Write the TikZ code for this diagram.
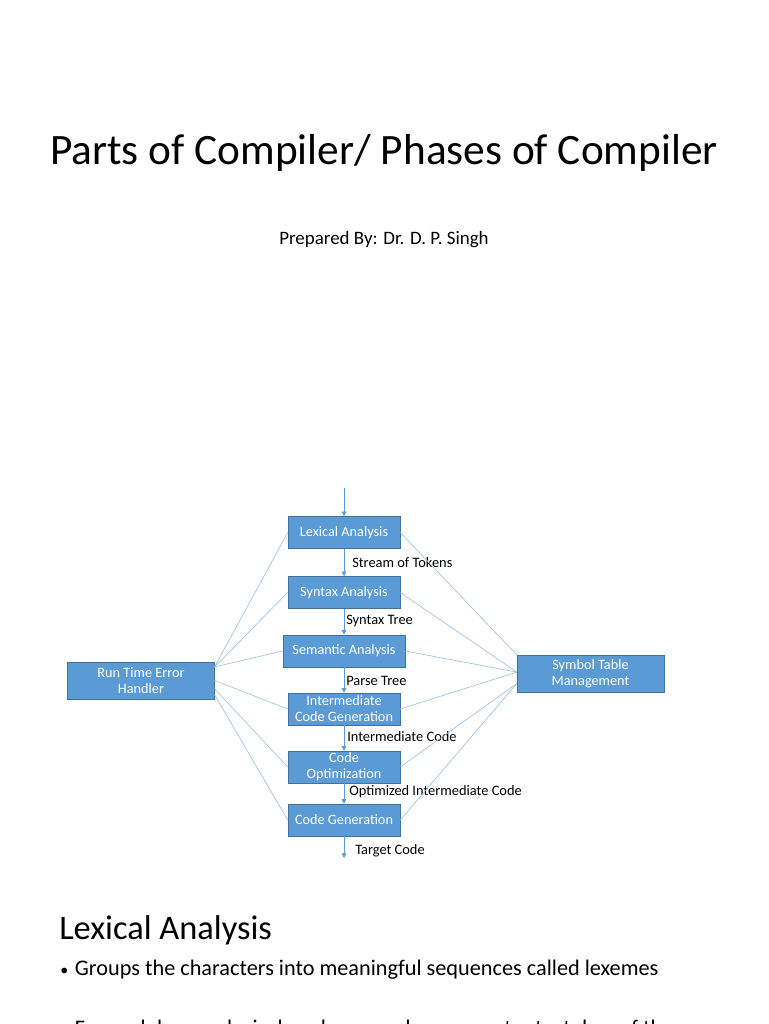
\documentclass[tikz,border=0pt]{standalone}
\usepackage{fontspec}
\setmainfont{Carlito}
\usetikzlibrary{calc,positioning,arrows.meta}
\definecolor{phasefill}{HTML}{5B9BD5}
\definecolor{phaseline}{HTML}{41719C}
\definecolor{linkblue}{HTML}{9DC3E6}

\begin{document}
\begin{tikzpicture}[x=0.75pt,y=-0.75pt,
    phase/.style={rectangle,draw=phaseline,fill=phasefill,text=white,
                  minimum width=84pt,minimum height=24pt,inner sep=1pt,
                  align=center,font=\fontsize{10.7}{12}\selectfont},
    side/.style={phase,minimum width=110pt,minimum height=28pt},
    flow/.style={-{Triangle[length=3.5pt,width=3.5pt]},draw=phasefill,line width=0.6pt},
    link/.style={draw=linkblue,line width=0.5pt},
    lbl/.style={anchor=west,inner sep=0pt,font=\fontsize{10.8}{12}\selectfont}]
  \clip (0,0) rectangle (768,1024);
  \useasboundingbox[fill=white] (0,0) rectangle (768,1024);

  % headings
  \node (title) at (384,153) {\fontsize{32.5}{36}\selectfont Parts of Compiler/ Phases of Compiler};
  \node (author) at (384,240) {\fontsize{14.2}{16}\selectfont Prepared By: Dr. D. P. Singh};

  % phases
  \node[phase] (lex) at (344,532.5) {Lexical Analysis};
  \node[phase] (syn) at (344,592.5) {Syntax Analysis};
  \node[phase,minimum width=91.5pt] (sem) at (344,651) {Semantic Analysis};
  \node[phase] (icg) at (344,709) {Intermediate\\Code Generation};
  \node[phase] (opt) at (344,767) {Code\\Optimization};
  \node[phase] (gen) at (344,820) {Code Generation};

  \node[side] (rteh) at (141,680.5) {Run Time Error\\Handler};
  \node[side] (stm) at (590.5,674) {Symbol Table\\Management};

  % flow between phases
  \coordinate (src) at (344,488);
  \coordinate (dst) at (344,858);
  \draw[flow] (src) -- (lex);
  \draw[flow] (lex) -- (syn);
  \draw[flow] (syn) -- (sem);
  \draw[flow] (sem) -- (icg);
  \draw[flow] (icg) -- (opt);
  \draw[flow] (opt) -- (gen);
  \draw[flow] (gen) -- (dst);

  \node[lbl] (l1) at (352,563) {Stream of Tokens};
  \node[lbl] (l2) at (346,621) {Syntax Tree};
  \node[lbl] (l3) at (346,681) {Parse Tree};
  \node[lbl] (l4) at (347,737) {Intermediate Code};
  \node[lbl] (l5) at (349,792) {Optimized Intermediate Code};
  \node[lbl] (l6) at (355,851) {Target Code};

  % error handler links
  \coordinate (rtehUp) at ($(rteh.north east)!0.14!(rteh.south east)$);
  \coordinate (rtehLo) at ($(rteh.north east)!0.72!(rteh.south east)$);
  \coordinate (rtehLow) at ($(rteh.north east)!0.88!(rteh.south east)$);
  \draw[link] (rtehUp) -- (lex.west);
  \draw[link] (rtehUp) -- (syn.west);
  \draw[link] (rtehUp) -- (sem.west);
  \draw[link] (rteh.east) -- (icg.west);
  \draw[link] (rtehLo) -- (opt.west);
  \draw[link] (rtehLow) -- (gen.west);

  % symbol table links
  \coordinate (stmMid) at ($(stm.north west)!0.45!(stm.south west)$);
  \coordinate (stmLo) at ($(stm.north west)!0.75!(stm.south west)$);
  \draw[link] (lex.east) -- (stm.north west);
  \draw[link] (syn.east) -- (stmMid);
  \draw[link] (sem.east) -- (stmMid);
  \draw[link] (icg.east) -- (stmMid);
  \draw[link] (opt.east) -- (stmLo);
  \draw[link] (gen.east) -- (stmLo);

  % next section
  \node[anchor=west,inner sep=0pt] (sect) at (59,930) {\fontsize{25.8}{30}\selectfont Lexical Analysis};
  \node[anchor=base west,inner sep=0pt] (pt1) at (60,975) {\fontsize{16.7}{20}\selectfont {\fontsize{12}{12}\selectfont\textbullet}\hspace{5pt}Groups the characters into meaningful sequences called lexemes};
  \node[anchor=base west,inner sep=0pt] (pt2) at (60,1035) {\fontsize{16.7}{20}\selectfont {\fontsize{12}{12}\selectfont\textbullet}\hspace{5pt}For each lexeme lexical analyzer produces as output a token of the};
\end{tikzpicture}
\end{document}
